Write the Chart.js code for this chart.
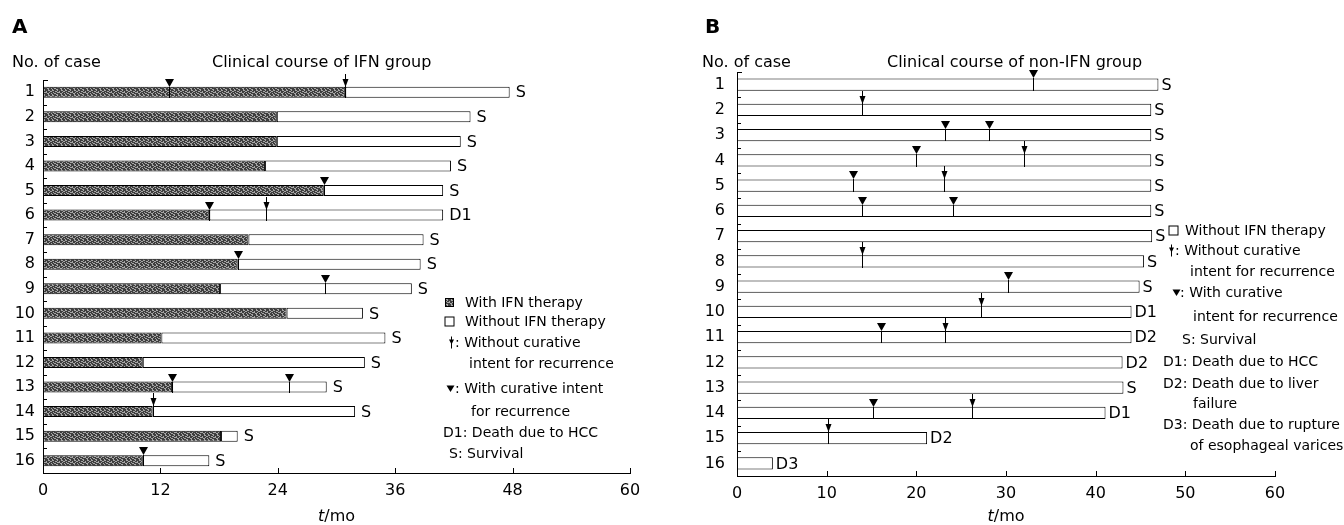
<!DOCTYPE html>
<html>
<head>
<meta charset="utf-8">
<script src="https://cdn.jsdelivr.net/npm/chart.js@4.4.1/dist/chart.umd.min.js"></script>
<style>
  body { margin: 0; background: #fff; }
  .panel { position: absolute; top: 0; width: 672px; height: 525px; }
  #panelA { left: 0; }
  #panelB { left: 672px; }
</style>
</head>
<body>
<div class="panel" id="panelA"><canvas id="chartA" width="672" height="525"></canvas></div>
<div class="panel" id="panelB"><canvas id="chartB" width="672" height="525"></canvas></div>
<script>
const cases = ['1', '2', '3', '4', '5', '6', '7', '8', '9', '10', '11', '12', '13', '14', '15', '16'];

// IFN group, months from treatment
const ifnEndA = [30.9, 23.9, 23.9, 22.7, 28.7, 17, 21, 19.9, 18.1, 24.9, 12.1, 10.2, 13.2, 11.2, 18.2, 10.2];
const followUpA = [47.7, 43.7, 42.7, 41.7, 40.9, 40.9, 38.9, 38.6, 37.7, 32.7, 35, 32.9, 29, 31.9, 19.9, 17];
const outcomeA = ['S', 'S', 'S', 'S', 'S', 'D1', 'S', 'S', 'S', 'S', 'S', 'S', 'S', 'S', 'S', 'S'];
const curativeA = [[12.9], [], [], [], [28.7], [17], [], [19.9], [28.8], [], [], [], [13.2, 25.1], [], [], [10.2]];
const nonCurativeA = [[30.9], [], [], [], [], [22.8], [], [], [], [], [], [], [], [11.2], [], []];
const ticksA = [0, 12, 24, 36, 48, 60];

// non-IFN group, months from treatment
const followUpB = [47, 46.2, 46.2, 46.2, 46.2, 46.2, 46.3, 45.4, 44.9, 44, 44, 43, 43.1, 41.1, 21.2, 4];
const outcomeB = ['S', 'S', 'S', 'S', 'S', 'S', 'S', 'S', 'S', 'D1', 'D2', 'D2', 'S', 'D1', 'D2', 'D3'];
const curativeB = [[33], [], [23.2, 28.1], [20], [12.9], [13.9, 24.1], [], [], [30.2], [], [16.1], [], [], [15.2], [], []];
const nonCurativeB = [[], [13.9], [], [32], [23.1], [], [], [13.9], [], [27.2], [23.2], [], [], [26.2], [10.1], []];
const ticksB = [0, 10, 20, 30, 40, 50, 60];

const FONT = '"DejaVu Sans", Verdana, sans-serif';
Chart.defaults.font.family = FONT;
Chart.defaults.color = '#000';

// speckled grey fill used for the IFN period
function ifnPattern() {
  const c = document.createElement('canvas');
  c.width = 13; c.height = 5;
  const g = c.getContext('2d');
  g.fillStyle = '#3e3e3e';
  g.fillRect(0, 0, 13, 5);
  g.fillStyle = '#a6a6a6';
  // short light flecks, mostly horizontal
  [[0, 0, 2], [5, 0, 1], [9, 0, 2], [3, 1, 2], [7, 1, 1], [11, 1, 2],
   [1, 2, 1], [5, 2, 3], [10, 2, 1], [2, 3, 2], [8, 3, 2], [12, 3, 1],
   [0, 4, 1], [4, 4, 2], [9, 4, 1]].forEach(([px, py, w]) => g.fillRect(px, py, w, 1));
  return g.createPattern(c, 'repeat');
}

function drawCurative(ctx, px, top, bottom, w, h) {
  ctx.beginPath();
  ctx.moveTo(px, top); ctx.lineTo(px, bottom);
  ctx.stroke();
  ctx.beginPath();
  ctx.moveTo(px - w / 2, top - h);
  ctx.lineTo(px + w / 2, top - h);
  ctx.lineTo(px, top);
  ctx.closePath();
  ctx.fill();
}

function drawNonCurative(ctx, px, top, bottom) {
  ctx.beginPath();
  ctx.moveTo(px, top - 13); ctx.lineTo(px, bottom);
  ctx.stroke();
  ctx.beginPath();
  ctx.moveTo(px - 3, top - 8);
  ctx.lineTo(px + 3, top - 8);
  ctx.lineTo(px, top);
  ctx.closePath();
  ctx.fill();
}

function drawSymbol(ctx, sym, sx, sy, pattern) {
  ctx.fillStyle = '#000';
  if (sym === 'ifn') {
    ctx.fillStyle = pattern;
    ctx.fillRect(sx - 4, sy - 4, 8, 8);
    ctx.strokeRect(sx - 4, sy - 4, 8, 8);
  } else if (sym === 'box') {
    ctx.fillStyle = '#fff';
    ctx.fillRect(sx - 4.5, sy - 4.5, 9, 9);
    ctx.strokeRect(sx - 4.5, sy - 4.5, 9, 9);
  } else if (sym === 'arrow') {
    ctx.beginPath(); ctx.moveTo(sx, sy - 6); ctx.lineTo(sx, sy + 6); ctx.stroke();
    ctx.beginPath();
    ctx.moveTo(sx - 2.5, sy - 3); ctx.lineTo(sx + 2.5, sy - 3); ctx.lineTo(sx, sy + 2);
    ctx.closePath(); ctx.fill();
  } else if (sym === 'tri') {
    ctx.beginPath();
    ctx.moveTo(sx - 4, sy - 3); ctx.lineTo(sx + 4, sy - 3); ctx.lineTo(sx, sy + 3.5);
    ctx.closePath(); ctx.fill();
  }
}

function panelPlugin(p) {
  return {
    id: 'panel' + p.letter,
    afterDatasetsDraw(chart) {
      const { ctx, chartArea, scales: { x, y } } = chart;
      const meta = chart.getDatasetMeta(chart.data.datasets.length - 1);
      const off = p.offset;
      ctx.save();
      ctx.strokeStyle = '#000';
      ctx.fillStyle = '#000';
      ctx.lineWidth = 1;

      // inner tick marks on both axes
      ctx.beginPath();
      ctx.moveTo(chartArea.left, chartArea.top + 0.5);
      ctx.lineTo(chartArea.left + 5, chartArea.top + 0.5);
      for (let i = 1; i < cases.length; i++) {
        const yy = Math.round((y.getPixelForValue(i - 1) + y.getPixelForValue(i)) / 2) + 0.5;
        ctx.moveTo(chartArea.left, yy);
        ctx.lineTo(chartArea.left + 4, yy);
      }
      p.ticks.slice(1).forEach(v => {
        const xx = Math.round(x.getPixelForValue(v)) + 0.5;
        ctx.moveTo(xx, chartArea.bottom);
        ctx.lineTo(xx, chartArea.bottom - 5);
      });
      ctx.stroke();

      // recurrence markers and outcome labels
      ctx.font = '16px ' + FONT;
      ctx.textBaseline = 'middle';
      ctx.textAlign = 'left';
      meta.data.forEach((bar, i) => {
        const { x: endX, y: cy, height } = bar.getProps(['x', 'y', 'height'], true);
        const top = Math.round(cy - height / 2);
        const bottom = Math.round(cy + height / 2);
        ctx.fillStyle = '#000';
        p.curative[i].forEach(v => drawCurative(ctx, Math.round(x.getPixelForValue(v)) + 0.5, top, bottom, p.triW, p.triH));
        p.nonCurative[i].forEach(v => drawNonCurative(ctx, Math.round(x.getPixelForValue(v)) + 0.5, top, bottom));
        ctx.fillText(p.outcome[i], endX + p.labelGap, cy + 1);
      });

      // axis title with italic t
      ctx.textBaseline = 'alphabetic';
      const cx = (chartArea.left + chartArea.right) / 2;
      ctx.font = 'italic 16px ' + FONT;
      const wt = ctx.measureText('t').width;
      ctx.font = '16px ' + FONT;
      const wm = ctx.measureText('/mo').width;
      ctx.font = 'italic 16px ' + FONT;
      ctx.fillText('t', cx - (wt + wm) / 2, 521);
      ctx.font = '16px ' + FONT;
      ctx.fillText('/mo', cx - (wt + wm) / 2 + wt, 521);

      // panel letter and headings
      ctx.font = 'bold 20px ' + FONT;
      ctx.fillText(p.letter, p.letterX - off, 33);
      ctx.font = '16px ' + FONT;
      ctx.fillText('No. of case', p.caseX - off, 67);
      ctx.fillText(p.title, p.titleX - off, 67);

      // key
      ctx.font = '14px ' + FONT;
      ctx.textBaseline = 'middle';
      p.key.forEach(k => {
        if (k.sym) drawSymbol(ctx, k.sym, k.sx - off + 0.5, k.y + 0.5, p.pattern);
        ctx.fillStyle = '#000';
        ctx.fillText(k.text, k.tx - off, k.y + 1);
      });
      ctx.restore();
    }
  };
}

function buildPanel(id, p) {
  const datasets = [];
  if (p.ifnEnd) {
    datasets.push({
      label: 'With IFN therapy',
      data: p.ifnEnd.map(v => [0, v]),
      backgroundColor: p.pattern,
      borderColor: '#000',
      borderWidth: 1,
      borderSkipped: false
    });
  }
  datasets.push({
    label: 'Without IFN therapy',
    data: p.followUp.map((v, i) => [p.ifnEnd ? p.ifnEnd[i] : 0, v]),
    backgroundColor: '#fff',
    borderColor: '#000',
    borderWidth: 1,
    borderSkipped: false
  });

  return new Chart(document.getElementById(id), {
    type: 'bar',
    data: { labels: cases, datasets },
    options: {
      indexAxis: 'y',
      responsive: false,
      animation: false,
      categoryPercentage: 1,
      barPercentage: p.barPct,
      layout: { padding: { top: p.top, right: p.right, left: 0, bottom: 0 } },
      plugins: { legend: { display: false }, tooltip: { enabled: false } },
      scales: {
        x: {
          type: 'linear',
          min: 0,
          max: 60,
          grid: { display: false, drawTicks: false },
          border: { display: true, color: '#000', width: 1 },
          afterBuildTicks: s => { s.ticks = p.ticks.map(v => ({ value: v })); },
          afterFit: s => { s.height = p.xHeight; },
          ticks: { font: { size: 16 }, padding: p.tickPad, maxRotation: 0, autoSkip: false }
        },
        y: {
          type: 'category',
          stacked: true,
          grid: { display: false, drawTicks: false },
          border: { display: true, color: '#000', width: 1 },
          afterFit: s => { s.width = p.yWidth; },
          ticks: { font: { size: 16 }, padding: p.rowPad, autoSkip: false }
        }
      }
    },
    plugins: [panelPlugin(p)]
  });
}

const pattern = ifnPattern();

buildPanel('chartA', {
  letter: 'A', offset: 0, letterX: 12, caseX: 12,
  title: 'Clinical course of IFN group', titleX: 212,
  ifnEnd: ifnEndA, followUp: followUpA, outcome: outcomeA,
  curative: curativeA, nonCurative: nonCurativeA, ticks: ticksA,
  pattern, barPct: 0.45, top: 80, right: 42, xHeight: 52, yWidth: 43,
  tickPad: 8, rowPad: 8, labelGap: 6, triW: 9, triH: 8,
  key: [
    { sym: 'ifn', sx: 449, y: 302, text: 'With IFN therapy', tx: 465 },
    { sym: 'box', sx: 449, y: 321, text: 'Without IFN therapy', tx: 465 },
    { sym: 'arrow', sx: 451, y: 342, text: ': Without curative', tx: 455 },
    { text: 'intent for recurrence', tx: 469, y: 363 },
    { sym: 'tri', sx: 450, y: 388, text: ': With curative intent', tx: 455 },
    { text: 'for recurrence', tx: 471, y: 411 },
    { text: 'D1: Death due to HCC', tx: 443, y: 432 },
    { text: 'S: Survival', tx: 449, y: 453 }
  ]
});

buildPanel('chartB', {
  letter: 'B', offset: 672, letterX: 705, caseX: 702,
  title: 'Clinical course of non-IFN group', titleX: 887,
  ifnEnd: null, followUp: followUpB, outcome: outcomeB,
  curative: curativeB, nonCurative: nonCurativeB, ticks: ticksB,
  pattern, barPct: 0.49, top: 72, right: 69, xHeight: 49, yWidth: 65,
  tickPad: 8, rowPad: 12, labelGap: 3, triW: 9, triH: 8,
  key: [
    { sym: 'box', sx: 1173, y: 230, text: 'Without IFN therapy', tx: 1185 },
    { sym: 'arrow', sx: 1171, y: 250, text: ': Without curative', tx: 1175 },
    { text: 'intent for recurrence', tx: 1190, y: 271 },
    { sym: 'tri', sx: 1176, y: 292, text: ': With curative', tx: 1180 },
    { text: 'intent for recurrence', tx: 1193, y: 316 },
    { text: 'S: Survival', tx: 1182, y: 339 },
    { text: 'D1: Death due to HCC', tx: 1163, y: 361 },
    { text: 'D2: Death due to liver', tx: 1163, y: 383 },
    { text: 'failure', tx: 1193, y: 403 },
    { text: 'D3: Death due to rupture', tx: 1163, y: 424 },
    { text: 'of esophageal varices', tx: 1190, y: 445 }
  ]
});
</script>
</body>
</html>
